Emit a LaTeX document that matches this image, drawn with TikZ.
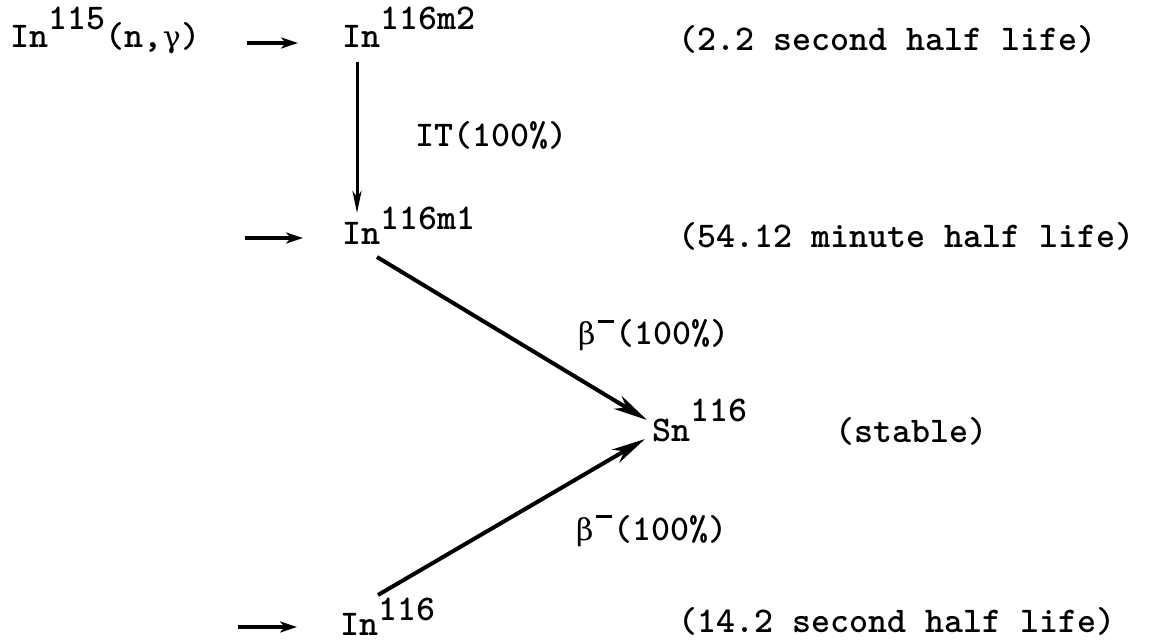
\documentclass[tikz,border=0pt]{standalone}
\usepackage{fontspec}
\newfontfamily\grk{DejaVu Serif}
\usetikzlibrary{arrows.meta}
\newcommand\upr[2]{\raisebox{#1}{#2}}
\newcommand\minussup{\makebox[19pt]{\raisebox{22pt}{\rule{16pt}{3pt}}}}
\newcommand\gk[1]{\makebox[19pt]{{\grk\mdseries\fontsize{30}{36}\selectfont #1}}}
\begin{document}
\begin{tikzpicture}[x=1pt,y=1pt,
  txt/.style={inner sep=0pt, anchor=base west, font=\fontsize{36.2}{40}\selectfont\ttfamily\bfseries},
  harrow/.style={line width=3.5pt, -{Stealth[length=17pt,width=11pt,inset=5pt]}},
  varrow/.style={line width=3pt, -{Stealth[length=22pt,width=9pt,inset=6pt]}},
  darrow/.style={line width=4pt, -{Stealth[length=34pt,width=15pt,inset=10pt]}}]
\useasboundingbox (0,0) rectangle (1150,640);
\fill[white] (0,0) rectangle (1150,640);
% species
\node[txt] (src) at (10,592) {In\upr{18pt}{115}(n,\gk{γ})};
\node[txt] (m2)  at (342,592) {In\upr{18pt}{116m2}};
\node[txt] (m1)  at (342,395) {In\upr{15pt}{116m1}};
\node[txt] (sn)  at (652,198) {Sn\upr{20pt}{116}};
\node[txt] (g)   at (340,5)   {In\upr{15pt}{116}};
% half lives
\node[txt] (t1) at (678,589) {(2.2 second half life)};
\node[txt] (t2) at (678,392) {(54.12 minute half life)};
\node[txt] (st) at (835,197) {(stable)};
\node[txt] (t3) at (678,8)   {(14.2 second half life)};
% decay labels
\node[txt] (it) at (415,493) {IT(100\%)};
\node[txt] (b1) at (577,295) {\gk{β}\minussup(100\%)};
\node[txt] (b2) at (575,100) {\gk{β}\minussup(100\%)};
% production arrows
\coordinate (h1) at (247,597);
\coordinate (h2) at (245,402);
\coordinate (h3) at (238,13);
\draw[harrow, shorten >=44pt] (h1) -- (h1 -| m2.west);
\draw[harrow, shorten >=39pt] (h2) -- (h2 -| m1.west);
\draw[harrow, shorten >=43pt] (h3) -- (h3 -| g.west);
% decay arrows
\draw[varrow] ([shift={(15,-14)}]m2.base west) -- ([shift={(15,32)}]m1.base west);
\draw[darrow] ([shift={(35,-12)}]m1.base west) -- ([shift={(-5,22)}]sn.base west);
\draw[darrow] ([shift={(38,40)}]g.base west) -- ([shift={(-7,3)}]sn.base west);
\end{tikzpicture}
\end{document}
